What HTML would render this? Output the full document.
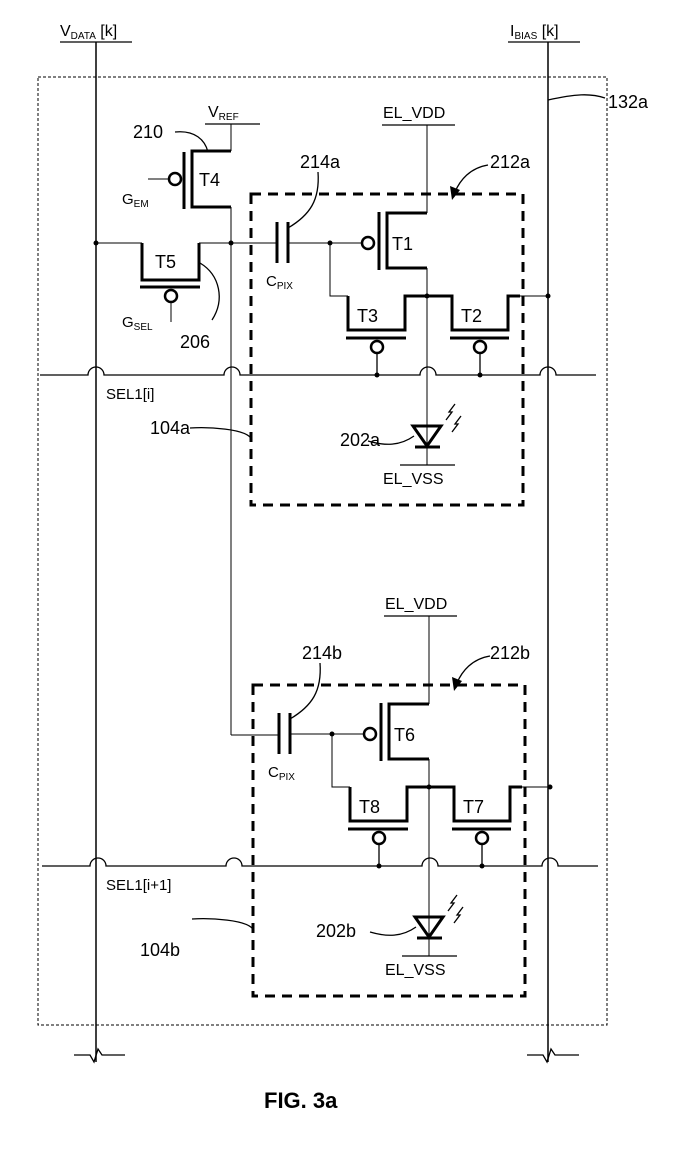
<!DOCTYPE html>
<html><head><meta charset="utf-8"><style>
html,body{margin:0;padding:0;background:#fff;width:697px;height:1157px;overflow:hidden}
svg{display:block}
text{font-family:"Liberation Sans",Arial,sans-serif;fill:#000}
</style></head><body>
<svg width="697" height="1157" viewBox="0 0 697 1157" xmlns="http://www.w3.org/2000/svg">
<defs>
<g id="cell">
  <rect x="251" y="194" width="272" height="311" fill="none" stroke="#000" stroke-width="3" stroke-dasharray="10,7"/>
  <line x1="382" y1="125" x2="455" y2="125" stroke="#000" stroke-width="1.3"/>
  <text x="383" y="118" font-size="16">EL_VDD</text>
  <line x1="427" y1="125" x2="427" y2="213" stroke="#000" stroke-width="1"/>
  <line x1="277" y1="222" x2="277" y2="263" stroke="#000" stroke-width="3"/>
  <line x1="288" y1="222" x2="288" y2="263" stroke="#000" stroke-width="3"/>
  <line x1="288" y1="243" x2="361" y2="243" stroke="#000" stroke-width="1"/>
  <text x="266" y="286" font-size="15">C<tspan font-size="10" dy="3">PIX</tspan></text>
  <circle cx="330" cy="243" r="2.5"/>
  <circle cx="368" cy="243" r="6" fill="none" stroke="#000" stroke-width="2.5"/>
  <line x1="379" y1="212" x2="379" y2="270" stroke="#000" stroke-width="3"/>
  <polyline points="427,213 387,213 387,268 427,268" fill="none" stroke="#000" stroke-width="3"/>
  <line x1="427" y1="268" x2="427" y2="452" stroke="#000" stroke-width="1"/>
  <polyline points="330,243 330,296 348,296" fill="none" stroke="#000" stroke-width="1"/>
  <polyline points="348,296 348,330 405,330 405,296 427,296" fill="none" stroke="#000" stroke-width="3"/>
  <line x1="346" y1="338" x2="406" y2="338" stroke="#000" stroke-width="3"/>
  <circle cx="377" cy="347" r="6" fill="none" stroke="#000" stroke-width="2.5"/>
  <line x1="377" y1="353" x2="377" y2="375" stroke="#000" stroke-width="1.3"/>
  <circle cx="377" cy="375" r="2.5"/>
  <circle cx="427" cy="296" r="2.5"/>
  <polyline points="427,296 452,296 452,330 508,330 508,296 520,296" fill="none" stroke="#000" stroke-width="3"/>
  <line x1="520" y1="296" x2="548" y2="296" stroke="#000" stroke-width="1"/>
  <line x1="450" y1="338" x2="509" y2="338" stroke="#000" stroke-width="3"/>
  <circle cx="480" cy="347" r="6" fill="none" stroke="#000" stroke-width="2.5"/>
  <line x1="480" y1="353" x2="480" y2="375" stroke="#000" stroke-width="1.3"/>
  <circle cx="480" cy="375" r="2.5"/>
  <circle cx="548" cy="296" r="2.5"/>
  <path d="M40,375 H88 A8,8 0 0 1 104,375 H224 A8,8 0 0 1 240,375 H420 A8,8 0 0 1 436,375 H540 A8,8 0 0 1 556,375 H596" fill="none" stroke="#000" stroke-width="1.3"/>
  <polygon points="413,426 441,426 427,446" fill="none" stroke="#000" stroke-width="3"/>
  <line x1="415" y1="447" x2="440" y2="447" stroke="#000" stroke-width="3"/>
  <line x1="427" y1="447" x2="427" y2="465" stroke="#000" stroke-width="1"/>
  <path d="M446,420 l6,-8 l-3,0 l6,-8" fill="none" stroke="#000" stroke-width="1.3"/>
  <path d="M452,432 l6,-8 l-3,0 l6,-8" fill="none" stroke="#000" stroke-width="1.3"/>
  <line x1="400" y1="465" x2="455" y2="465" stroke="#000" stroke-width="1.3"/>
  <text x="383" y="484" font-size="16">EL_VSS</text>
  <path d="M368,441 C385,446 400,446 414,436" fill="none" stroke="#000" stroke-width="1.3"/>
  <path d="M318,172 C320,200 310,215 288,228" fill="none" stroke="#000" stroke-width="1.3"/>
  <path d="M488,165 C470,168 460,180 455,192" fill="none" stroke="#000" stroke-width="1.3"/>
  <polygon points="452,200 450,186 460,190" fill="#000"/>
  <path d="M190,428 C205,427 248,428 252,440" fill="none" stroke="#000" stroke-width="1.3"/>
</g>
</defs>

<rect x="38" y="77" width="569" height="948" fill="none" stroke="#000" stroke-width="1" stroke-dasharray="3,2"/>

<line x1="60" y1="42" x2="132" y2="42" stroke="#000" stroke-width="1.3"/>
<text x="60" y="36" font-size="16">V<tspan font-size="10" dy="3">DATA</tspan><tspan dy="-3"> [k]</tspan></text>
<line x1="96" y1="42" x2="96" y2="1062" stroke="#000" stroke-width="1.5"/>
<path d="M74,1055 H90 L94,1062 L98,1049 L102,1055 H125" fill="none" stroke="#000" stroke-width="1.3"/>
<line x1="508" y1="42" x2="580" y2="42" stroke="#000" stroke-width="1.3"/>
<text x="510" y="36" font-size="16">I<tspan font-size="10" dy="3">BIAS</tspan><tspan dy="-3"> [k]</tspan></text>
<line x1="548" y1="42" x2="548" y2="1062" stroke="#000" stroke-width="1.5"/>
<path d="M527,1055 H543 L547,1062 L551,1049 L555,1055 H579" fill="none" stroke="#000" stroke-width="1.3"/>
<path d="M548,100 C575,94 590,93 605,98" fill="none" stroke="#000" stroke-width="1.3"/>
<text x="608" y="108" font-size="18">132a</text>

<line x1="205" y1="124" x2="260" y2="124" stroke="#000" stroke-width="1.3"/>
<text x="208" y="117" font-size="16">V<tspan font-size="10" dy="3">REF</tspan></text>
<line x1="231" y1="124" x2="231" y2="151" stroke="#000" stroke-width="1"/>
<polyline points="231,151 192,151 192,207 231,207" fill="none" stroke="#000" stroke-width="3"/>
<line x1="184" y1="152" x2="184" y2="209" stroke="#000" stroke-width="3"/>
<circle cx="175" cy="179" r="6" fill="none" stroke="#000" stroke-width="2.5"/>
<line x1="148" y1="179" x2="169" y2="179" stroke="#000" stroke-width="1"/>
<text x="199" y="186" font-size="18">T4</text>
<text x="122" y="204" font-size="15">G<tspan font-size="10" dy="3">EM</tspan></text>
<path d="M175,132 C195,130 205,140 208,152" fill="none" stroke="#000" stroke-width="1.3"/>
<text x="133" y="138" font-size="18">210</text>
<line x1="231" y1="207" x2="231" y2="735" stroke="#000" stroke-width="1"/>
<line x1="96" y1="243" x2="142" y2="243" stroke="#000" stroke-width="1"/>
<circle cx="96" cy="243" r="2.5"/>
<polyline points="142,243 142,280 199,280 199,243" fill="none" stroke="#000" stroke-width="3"/>
<line x1="140" y1="287" x2="200" y2="287" stroke="#000" stroke-width="3"/>
<circle cx="171" cy="296" r="6" fill="none" stroke="#000" stroke-width="2.5"/>
<line x1="171" y1="302" x2="171" y2="322" stroke="#000" stroke-width="1"/>
<text x="155" y="268" font-size="18">T5</text>
<text x="122" y="327" font-size="15">G<tspan font-size="10" dy="3">SEL</tspan></text>
<line x1="199" y1="243" x2="277" y2="243" stroke="#000" stroke-width="1"/>
<circle cx="231" cy="243" r="2.5"/>
<path d="M200,263 C220,275 225,300 212,320" fill="none" stroke="#000" stroke-width="1.3"/>
<text x="180" y="348" font-size="18">206</text>

<use href="#cell"/>
<text x="392" y="250" font-size="18">T1</text>
<text x="357" y="322" font-size="18">T3</text>
<text x="461" y="322" font-size="18">T2</text>
<text x="300" y="168" font-size="18">214a</text>
<text x="490" y="168" font-size="18">212a</text>
<text x="340" y="446" font-size="18">202a</text>
<text x="150" y="434" font-size="18">104a</text>
<text x="106" y="399" font-size="15">SEL1[i]</text>

<line x1="231" y1="735" x2="279" y2="735" stroke="#000" stroke-width="1"/>
<use href="#cell" transform="translate(2,491)"/>
<text x="394" y="741" font-size="18">T6</text>
<text x="359" y="813" font-size="18">T8</text>
<text x="463" y="813" font-size="18">T7</text>
<text x="302" y="659" font-size="18">214b</text>
<text x="490" y="659" font-size="18">212b</text>
<text x="316" y="937" font-size="18">202b</text>
<text x="140" y="956" font-size="18">104b</text>
<text x="106" y="890" font-size="15">SEL1[i+1]</text>

<text x="264" y="1108" font-size="22" font-weight="bold">FIG. 3a</text>
</svg>
</body></html>
